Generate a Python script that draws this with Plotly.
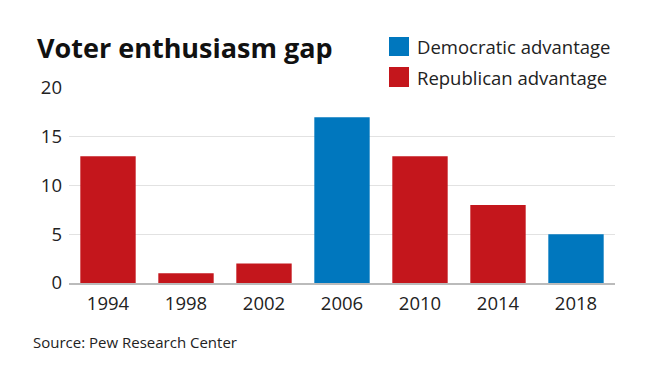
import plotly.graph_objects as go

years = ["1994", "1998", "2002", "2006", "2010", "2014", "2018"]
gap = [13, 1, 2, 17, 13, 8, 5]
party = ["R", "R", "R", "D", "R", "R", "D"]
y_ticks = [0, 5, 10, 15, 20]

BLUE = "#0077BE"
RED = "#C4161C"
FONT = "Open Sans"

dem_vals = [v if p == "D" else None for v, p in zip(gap, party)]
rep_vals = [v if p == "R" else None for v, p in zip(gap, party)]

OFF = 8  # page body margin
W, H = 645 - OFF, 380 - OFF
L, R, T, B = 69 - OFF, 30, 88 - OFF, 97
pw, ph = W - L - R, H - T - B

def px_x(x):
    return (x - OFF - L) / pw

def px_y(y):
    return (H - B - (y - OFF)) / ph

fig = go.Figure()
fig.add_trace(go.Bar(x=years, y=dem_vals, name="Democratic advantage",
                     marker=dict(color=BLUE, line=dict(width=0)), showlegend=False))
fig.add_trace(go.Bar(x=years, y=rep_vals, name="Republican advantage",
                     marker=dict(color=RED, line=dict(width=0)), showlegend=False))

shapes = [
    dict(type="rect", xref="paper", yref="paper", layer="above",
         x0=px_x(378), x1=px_x(645), y0=px_y(96), y1=px_y(25),
         fillcolor="white", line=dict(width=0)),
    dict(type="rect", xref="paper", yref="paper", layer="above",
         x0=px_x(389), x1=px_x(409), y0=px_y(56), y1=px_y(37),
         fillcolor=BLUE, line=dict(width=0)),
    dict(type="rect", xref="paper", yref="paper", layer="above",
         x0=px_x(389), x1=px_x(409), y0=px_y(87), y1=px_y(67),
         fillcolor=RED, line=dict(width=0)),
]

annotations = [
    dict(text="<b>Voter enthusiasm gap</b>", xref="paper", yref="paper",
         x=px_x(35), y=px_y(47), xanchor="left", yanchor="middle", showarrow=False,
         font=dict(family=FONT, size=27, color="#111")),
    dict(text="Democratic advantage", xref="paper", yref="paper",
         x=px_x(415), y=px_y(46), xanchor="left", yanchor="middle", showarrow=False,
         font=dict(family=FONT, size=18.5, color="#222")),
    dict(text="Republican advantage", xref="paper", yref="paper",
         x=px_x(415), y=px_y(77), xanchor="left", yanchor="middle", showarrow=False,
         font=dict(family=FONT, size=18.5, color="#222")),
    dict(text="Source: Pew Research Center", xref="paper", yref="paper",
         x=px_x(31), y=px_y(342), xanchor="left", yanchor="middle", showarrow=False,
         font=dict(family=FONT, size=15, color="#222")),
]

fig.update_layout(
    width=W, height=H,
    margin=dict(l=L, r=R, t=T, b=B, pad=0),
    paper_bgcolor="white", plot_bgcolor="white",
    barmode="overlay", bargap=0.29,
    font=dict(family=FONT, size=18, color="#222"),
    shapes=shapes, annotations=annotations,
    xaxis=dict(type="category", showgrid=False, showline=True, linecolor="#bbbbbb",
               linewidth=2, ticks="", tickfont=dict(size=18.5), ticklabelstandoff=3,
               fixedrange=True),
    yaxis=dict(range=[0, 20], tickvals=y_ticks, showgrid=True, gridcolor="#e2e2e2",
               gridwidth=1, zeroline=False, showline=False, ticks="",
               tickfont=dict(size=18.5), ticklabelstandoff=6, fixedrange=True),
)

fig.write_html("out.html")
